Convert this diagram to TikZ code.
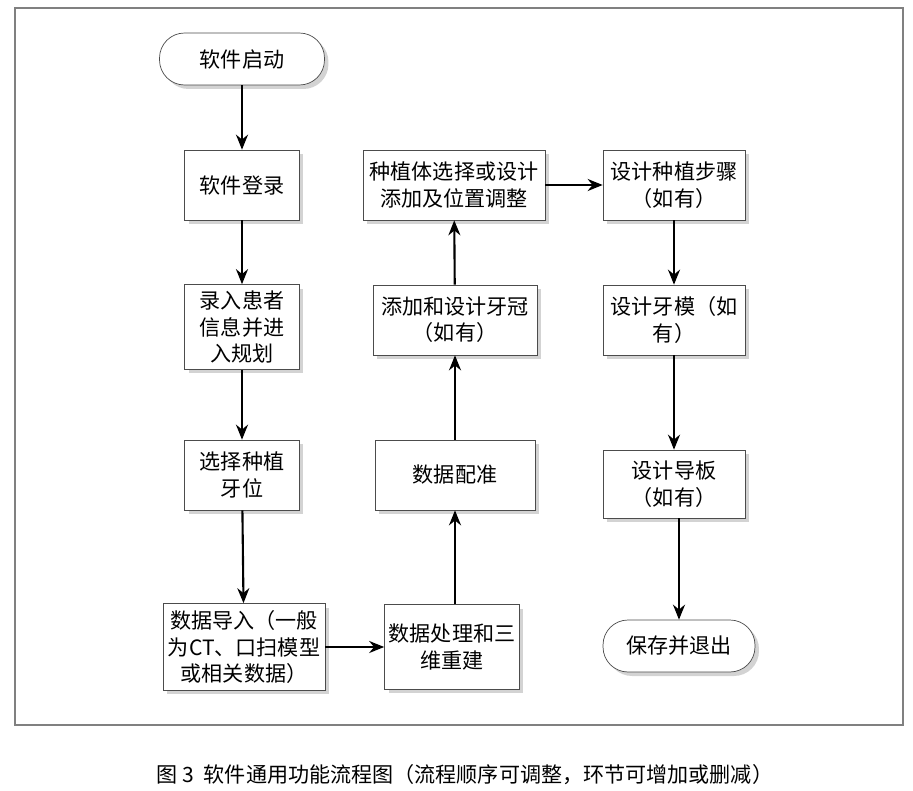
\documentclass[tikz,border=0pt]{standalone}
\usepackage{fontspec}
\setmainfont{Noto Sans CJK SC}
\usetikzlibrary{arrows.meta,shadows,shapes}
\tikzset{
  box/.style={draw=black!70,fill=white,drop shadow={opacity=0.35,shadow xshift=0.08cm,shadow yshift=-0.08cm},
    align=center,font=\fontsize{12}{15}\selectfont,inner sep=1pt},
  term/.style={box,rounded corners=0.5cm},
  link/.style={-{Stealth[length=3mm,width=2.4mm]},line width=1.2pt}
}
\begin{document}
\begin{tikzpicture}[x=0.02cm,y=-0.02cm]
  \useasboundingbox (0,0) rectangle (913,791);
  \draw[black!50,line width=1pt] (15,8) rectangle (903,725);
  % left column
  \node[term,minimum width=3.3cm,minimum height=1.04cm] (start) at (242,59) {软件启动};
  \node[box,minimum width=2.3cm,minimum height=1.4cm] (login) at (242,185) {软件登录};
  \node[box,minimum width=2.3cm,minimum height=1.7cm] (patient) at (242,327) {录入患者\\信息并进\\入规划};
  \node[box,minimum width=2.3cm,minimum height=1.4cm] (tooth) at (242,475) {选择种植\\牙位};
  \node[box,minimum width=3.24cm,minimum height=1.74cm] (import) at (244,647) {数据导入（一般\\为CT、口扫模型\\或相关数据）};
  % middle column
  \node[box,minimum width=2.7cm,minimum height=1.7cm] (recon) at (452,647) {数据处理和三\\维重建};
  \node[box,minimum width=3.2cm,minimum height=1.4cm] (reg) at (455,475) {数据配准};
  \node[box,minimum width=3.28cm,minimum height=1.4cm] (crown) at (455,320) {添加和设计牙冠\\（如有）};
  \node[box,minimum width=3.64cm,minimum height=1.4cm] (implant) at (454,185) {种植体选择或设计\\添加及位置调整};
  % right column
  \node[box,minimum width=2.84cm,minimum height=1.4cm] (steps) at (674,185) {设计种植步骤\\（如有）};
  \node[box,minimum width=2.84cm,minimum height=1.4cm] (model) at (674,320) {设计牙模（如\\有）};
  \node[box,minimum width=2.84cm,minimum height=1.36cm] (guide) at (674,484) {设计导板\\（如有）};
  \node[term,minimum width=3.04cm,minimum height=1.04cm] (exit) at (679,646) {保存并退出};
  % connectors
  \draw[link] (start) -- (login);
  \draw[link] (login) -- (patient);
  \draw[link] (patient) -- (tooth);
  \draw[link] (tooth) -- (import);
  \draw[link] (import) -- (recon);
  \draw[link] (recon.north -| reg) -- (reg);
  \draw[link] (reg) -- (crown);
  \draw[link] (crown) -- (implant);
  \draw[link] (implant) -- (steps);
  \draw[link] (steps) -- (model);
  \draw[link] (model) -- (guide);
  \draw[link] (guide.south -| exit.north) -- (exit);
  % caption
  \node[font=\fontsize{12}{15}\selectfont] (cap) at (465,775) {图 3\ \ 软件通用功能流程图（流程顺序可调整，环节可增加或删减）};
\end{tikzpicture}
\end{document}
